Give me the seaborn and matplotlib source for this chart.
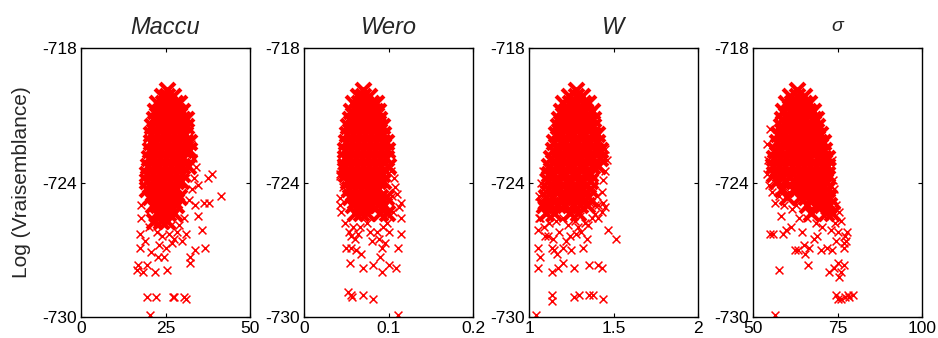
import matplotlib
matplotlib.use("Agg")
import matplotlib.pyplot as plt
import seaborn as sns

# ---- data (log-likelihood vs parameter draws) ----
titles = ["Maccu", "Wero", "W", "σ"]
y_ticks = [-730, -724, -718]
y_ticklabels = ["-730", "-724", "-718"]
x_ticks = [[0, 25, 50], [0, 0.1, 0.2], [1, 1.5, 2], [50, 75, 100]]
x_ticklabels = [["0", "25", "50"], ["0", "0.1", "0.2"], ["1", "1.5", "2"], ["50", "75", "100"]]

# Maccu: dense core
core_x1 = [25.4,
           23.8, 25.5, 27.2,
           22.6, 24.3, 26.0, 27.7, 29.0,
           21.9, 23.5, 25.1, 26.8, 28.4, 29.8,
           21.5, 23.1, 24.8, 26.5, 28.2, 29.9, 31.0,
           21.1, 22.8, 24.5, 26.2, 27.9, 29.6, 31.0,
           20.8, 22.4, 24.1, 25.8, 27.5, 29.2, 30.8,
           20.6, 22.3, 24.0, 25.7, 27.4, 29.1, 30.8, 32.0,
           20.3, 21.9, 23.6, 25.3, 27.0, 28.7, 30.4, 31.8,
           20.0, 21.7, 23.4, 25.1, 26.8, 28.5, 30.2,
           19.8, 21.5, 23.2, 24.9, 26.6, 28.3, 30.0, 31.5,
           19.6, 21.3, 23.0, 24.7, 26.4, 28.1, 29.8,
           19.5, 21.2, 22.9, 24.6, 26.3, 28.0, 29.7,
           19.6, 21.3, 23.0, 24.7, 26.4, 28.1,
           20.5, 22.2, 23.9, 25.6, 27.3, 29.0,
           21.2, 22.9, 24.6, 26.3, 28.0,
           22.4, 24.1, 25.8, 27.5,
           21.5, 23.6, 25.5]
core_y1 = [-719.85,
           -720.15, -720.15, -720.15,
           -720.45, -720.45, -720.45, -720.45, -720.45,
           -720.8, -720.8, -720.8, -720.8, -720.8, -720.8,
           -721.15, -721.15, -721.15, -721.15, -721.15, -721.15, -721.15,
           -721.5, -721.5, -721.5, -721.5, -721.5, -721.5, -721.5,
           -721.85, -721.85, -721.85, -721.85, -721.85, -721.85, -721.85,
           -722.2, -722.2, -722.2, -722.2, -722.2, -722.2, -722.2, -722.2,
           -722.55, -722.55, -722.55, -722.55, -722.55, -722.55, -722.55, -722.55,
           -722.9, -722.9, -722.9, -722.9, -722.9, -722.9, -722.9,
           -723.25, -723.25, -723.25, -723.25, -723.25, -723.25, -723.25, -723.25,
           -723.6, -723.6, -723.6, -723.6, -723.6, -723.6, -723.6,
           -723.95, -723.95, -723.95, -723.95, -723.95, -723.95, -723.95,
           -724.3, -724.3, -724.3, -724.3, -724.3, -724.3,
           -724.65, -724.65, -724.65, -724.65, -724.65, -724.65,
           -725.0, -725.0, -725.0, -725.0, -725.0,
           -725.35, -725.35, -725.35, -725.35,
           -725.7, -725.7, -725.7]
# Maccu: sparse tail
tail_x1 = [31.5, 32.5, 33.2, 34.0, 33.5, 32.8, 34.5, 31.8, 33.8,
           38.6, 37.7, 41.3, 37.9, 36.4, 34.5, 35.7, 36.7, 33.7, 32.2, 32.2,
           29.8, 25.3, 21.9, 19.4, 16.9, 16.6, 18.3, 22.7, 20.8, 17.4, 17.4,
           17.8, 17.8, 19.4, 22.3, 27.2, 27.6, 30.6, 31.0, 20.3,
           22.5, 24.0, 26.0, 27.5, 28.5, 23.0, 25.0, 27.0, 29.0, 30.5,
           20.0, 21.0, 19.0, 24.5, 26.5, 31.0]
tail_y1 = [-721.6, -722.3, -722.9, -723.3, -723.8, -724.3, -724.1, -724.8, -725.0,
           -723.6, -723.8, -724.6, -724.9, -724.9, -725.5, -726.1, -726.9, -727.0, -727.3, -727.6,
           -726.6, -727.9, -728.0, -727.7, -727.7, -727.9, -728.0, -727.3, -727.1, -726.9, -726.3,
           -725.6, -725.0, -729.1, -729.1, -729.1, -729.1, -729.1, -729.2, -729.9,
           -726.2, -726.4, -726.3, -726.5, -726.2, -726.8, -726.9, -726.7, -725.9, -725.6,
           -726.0, -725.8, -726.6, -727.3, -725.9, -726.3]

# Wero
core_x2 = [0.070,
           0.064, 0.070, 0.077,
           0.058, 0.065, 0.072, 0.079, 0.085,
           0.056, 0.063, 0.070, 0.077, 0.084, 0.088,
           0.054, 0.061, 0.068, 0.075, 0.082, 0.089,
           0.052, 0.059, 0.066, 0.073, 0.080, 0.087, 0.092,
           0.051, 0.058, 0.065, 0.072, 0.079, 0.086, 0.094,
           0.050, 0.057, 0.064, 0.071, 0.078, 0.085, 0.092, 0.097,
           0.049, 0.056, 0.063, 0.070, 0.077, 0.084, 0.091, 0.098,
           0.048, 0.055, 0.062, 0.069, 0.076, 0.083, 0.090, 0.097,
           0.049, 0.056, 0.063, 0.070, 0.077, 0.084, 0.091, 0.099,
           0.050, 0.057, 0.064, 0.071, 0.078, 0.085, 0.092,
           0.052, 0.059, 0.066, 0.073, 0.080, 0.087, 0.094,
           0.053, 0.060, 0.067, 0.074, 0.081, 0.088,
           0.055, 0.062, 0.069, 0.076, 0.083, 0.090, 0.097,
           0.058, 0.065, 0.072, 0.079, 0.088, 0.095,
           0.060, 0.067, 0.075, 0.090, 0.098]
core_y2 = [-719.85,
           -720.15, -720.15, -720.15,
           -720.45, -720.45, -720.45, -720.45, -720.45,
           -720.8, -720.8, -720.8, -720.8, -720.8, -720.8,
           -721.15, -721.15, -721.15, -721.15, -721.15, -721.15,
           -721.5, -721.5, -721.5, -721.5, -721.5, -721.5, -721.5,
           -721.85, -721.85, -721.85, -721.85, -721.85, -721.85, -721.85,
           -722.2, -722.2, -722.2, -722.2, -722.2, -722.2, -722.2, -722.2,
           -722.55, -722.55, -722.55, -722.55, -722.55, -722.55, -722.55, -722.55,
           -722.9, -722.9, -722.9, -722.9, -722.9, -722.9, -722.9, -722.9,
           -723.25, -723.25, -723.25, -723.25, -723.25, -723.25, -723.25, -723.25,
           -723.6, -723.6, -723.6, -723.6, -723.6, -723.6, -723.6,
           -723.95, -723.95, -723.95, -723.95, -723.95, -723.95, -723.95,
           -724.3, -724.3, -724.3, -724.3, -724.3, -724.3,
           -724.65, -724.65, -724.65, -724.65, -724.65, -724.65, -724.65,
           -725.0, -725.0, -725.0, -725.0, -725.0, -725.0,
           -725.35, -725.35, -725.35, -725.35, -725.35]
tail_x2 = [0.115, 0.115, 0.115, 0.111, 0.109, 0.101, 0.092, 0.082, 0.070, 0.068,
           0.054, 0.050, 0.056, 0.092, 0.090, 0.052, 0.056, 0.057, 0.070, 0.082, 0.111,
           0.042, 0.043, 0.042, 0.043, 0.044, 0.046, 0.044,
           0.048, 0.053, 0.056, 0.060, 0.064, 0.066, 0.058, 0.086, 0.089, 0.094,
           0.098, 0.078, 0.081, 0.074, 0.062, 0.096, 0.100, 0.104, 0.108, 0.106,
           0.103, 0.110, 0.112, 0.105, 0.101]
tail_y2 = [-724.9, -725.6, -726.3, -726.9, -727.8, -727.7, -728.0, -727.7, -727.8, -727.2,
           -727.6, -726.9, -726.9, -726.9, -727.3, -728.9, -729.0, -729.1, -729.0, -729.2, -729.9,
           -723.6, -723.7, -724.7, -725.0, -725.3, -724.2, -723.2,
           -725.8, -726.2, -726.4, -726.5, -726.3, -726.0, -726.0, -726.2, -726.5, -726.0,
           -725.8, -726.2, -726.6, -725.8, -727.0, -726.7, -725.5, -724.6, -724.2, -723.8,
           -723.5, -724.5, -725.1, -725.3, -726.2]

# W
core_x3 = [1.275,
           1.235, 1.275, 1.315,
           1.20, 1.24, 1.28, 1.32, 1.35,
           1.19, 1.22, 1.26, 1.30, 1.33, 1.37,
           1.18, 1.21, 1.25, 1.28, 1.32, 1.35, 1.38,
           1.17, 1.20, 1.24, 1.27, 1.31, 1.34, 1.38,
           1.16, 1.19, 1.23, 1.26, 1.30, 1.33, 1.37, 1.40,
           1.15, 1.19, 1.22, 1.26, 1.29, 1.33, 1.36, 1.40,
           1.14, 1.18, 1.21, 1.25, 1.28, 1.32, 1.35, 1.39, 1.42,
           1.13, 1.17, 1.20, 1.24, 1.27, 1.31, 1.34, 1.38, 1.42,
           1.12, 1.16, 1.19, 1.23, 1.26, 1.30, 1.33, 1.37, 1.41,
           1.12, 1.15, 1.19, 1.22, 1.26, 1.29, 1.33, 1.36,
           1.11, 1.15, 1.18, 1.22, 1.25, 1.29, 1.32, 1.36,
           1.11, 1.15, 1.18, 1.22, 1.25, 1.29, 1.32, 1.36,
           1.10, 1.14, 1.19, 1.23, 1.27, 1.31, 1.35,
           1.09, 1.13, 1.17, 1.21, 1.26, 1.30, 1.34,
           1.10, 1.15, 1.24, 1.29]
core_y3 = [-719.85,
           -720.15, -720.15, -720.15,
           -720.45, -720.45, -720.45, -720.45, -720.45,
           -720.8, -720.8, -720.8, -720.8, -720.8, -720.8,
           -721.15, -721.15, -721.15, -721.15, -721.15, -721.15, -721.15,
           -721.5, -721.5, -721.5, -721.5, -721.5, -721.5, -721.5,
           -721.85, -721.85, -721.85, -721.85, -721.85, -721.85, -721.85, -721.85,
           -722.2, -722.2, -722.2, -722.2, -722.2, -722.2, -722.2, -722.2,
           -722.55, -722.55, -722.55, -722.55, -722.55, -722.55, -722.55, -722.55, -722.55,
           -722.9, -722.9, -722.9, -722.9, -722.9, -722.9, -722.9, -722.9, -722.9,
           -723.25, -723.25, -723.25, -723.25, -723.25, -723.25, -723.25, -723.25, -723.25,
           -723.6, -723.6, -723.6, -723.6, -723.6, -723.6, -723.6, -723.6,
           -723.95, -723.95, -723.95, -723.95, -723.95, -723.95, -723.95, -723.95,
           -724.3, -724.3, -724.3, -724.3, -724.3, -724.3, -724.3, -724.3,
           -724.65, -724.65, -724.65, -724.65, -724.65, -724.65, -724.65,
           -725.0, -725.0, -725.0, -725.0, -725.0, -725.0, -725.0,
           -725.35, -725.35, -725.35, -725.35]
tail_x3 = [1.45, 1.46, 1.45, 1.44, 1.43, 1.40, 1.39, 1.45, 1.43, 1.41,
           1.08, 1.07, 1.06, 1.07, 1.08,
           1.065, 1.059, 1.055, 1.095, 1.112, 1.055, 1.067, 1.055, 1.134, 1.173,
           1.203, 1.167, 1.138, 1.145, 1.20, 1.22, 1.24, 1.25, 1.29, 1.32,
           1.34, 1.33, 1.37, 1.39, 1.41, 1.44, 1.468, 1.512, 1.268, 1.354,
           1.409, 1.431, 1.134, 1.134, 1.268, 1.297, 1.356, 1.376, 1.439, 1.04,
           1.12, 1.16, 1.20, 1.23, 1.27, 1.31, 1.28, 1.18, 1.09, 1.35, 1.30, 1.14, 1.36]
tail_y3 = [-722.5, -723.0, -723.5, -723.9, -724.4, -724.6, -725.0, -725.1, -725.3, -725.6,
           -723.5, -724.0, -724.6, -725.0, -724.3,
           -725.6, -725.6, -726.1, -726.4, -726.4, -726.9, -727.3, -727.8, -728.0, -727.8,
           -727.6, -727.2, -726.9, -727.0, -726.9, -726.6, -726.4, -727.0, -726.0, -726.9,
           -726.5, -725.8, -725.6, -725.4, -725.0, -724.9, -726.1, -726.5, -727.8, -727.7,
           -727.7, -727.8, -729.0, -729.3, -729.1, -729.0, -729.0, -729.0, -729.2, -729.9,
           -725.8, -725.7, -725.6, -725.9, -725.7, -726.2, -726.3, -726.2, -726.0, -725.9, -725.5, -726.5, -724.9]

# sigma
core_x4 = [63.0,
           61.0, 63.0, 65.0,
           59.7, 61.5, 63.3, 65.1, 66.6,
           59.0, 60.8, 62.6, 64.4, 66.2, 67.8,
           58.6, 60.4, 62.2, 64.0, 65.8, 67.6, 68.6,
           58.2, 60.0, 61.8, 63.6, 65.4, 67.2, 69.0,
           57.5, 59.3, 61.1, 62.9, 64.7, 66.5, 68.3, 69.8,
           57.0, 58.8, 60.6, 62.4, 64.2, 66.0, 67.8, 69.6, 70.6,
           56.6, 58.4, 60.2, 62.0, 63.8, 65.6, 67.4, 69.2, 71.0,
           56.2, 58.0, 59.8, 61.6, 63.4, 65.2, 67.0, 68.8, 70.6, 71.8,
           56.0, 57.8, 59.6, 61.4, 63.2, 65.0, 66.8, 68.6, 70.4, 72.0,
           56.3, 58.1, 59.9, 61.7, 63.5, 65.3, 67.1, 68.9, 70.7, 72.0,
           57.0, 59.5, 62.0, 64.0, 65.8, 67.6, 69.4, 71.2,
           58.5, 63.0, 64.8, 66.6, 68.4, 70.2, 72.0,
           60.0, 64.0, 65.8, 67.6, 69.4, 71.2, 72.6,
           66.0, 68.5, 70.5, 72.5,
           67.2, 71.5, 73.5]
core_y4 = [-719.85,
           -720.15, -720.15, -720.15,
           -720.45, -720.45, -720.45, -720.45, -720.45,
           -720.8, -720.8, -720.8, -720.8, -720.8, -720.8,
           -721.15, -721.15, -721.15, -721.15, -721.15, -721.15, -721.15,
           -721.5, -721.5, -721.5, -721.5, -721.5, -721.5, -721.5,
           -721.85, -721.85, -721.85, -721.85, -721.85, -721.85, -721.85, -721.85,
           -722.2, -722.2, -722.2, -722.2, -722.2, -722.2, -722.2, -722.2, -722.2,
           -722.55, -722.55, -722.55, -722.55, -722.55, -722.55, -722.55, -722.55, -722.55,
           -722.9, -722.9, -722.9, -722.9, -722.9, -722.9, -722.9, -722.9, -722.9, -722.9,
           -723.25, -723.25, -723.25, -723.25, -723.25, -723.25, -723.25, -723.25, -723.25, -723.25,
           -723.6, -723.6, -723.6, -723.6, -723.6, -723.6, -723.6, -723.6, -723.6, -723.6,
           -723.95, -723.95, -723.95, -723.95, -723.95, -723.95, -723.95, -723.95,
           -724.3, -724.3, -724.3, -724.3, -724.3, -724.3, -724.3,
           -724.65, -724.65, -724.65, -724.65, -724.65, -724.65, -724.65,
           -725.0, -725.0, -725.0, -725.0,
           -725.35, -725.35, -725.35]
tail_x4 = [54.5, 54.0, 54.6, 55.5, 54.2, 55.0, 56.5, 57.8, 59.3, 60.6, 61.5, 62.8, 63.6, 58.2,
           73.5, 73.8, 74.0, 74.5, 75.5, 76.0, 74.2, 75.1, 73.2,
           77.1, 77.6, 77.0, 77.8, 76.8,
           55.0, 55.8, 58.9, 59.9, 61.3, 62.3, 63.2, 66.2, 57.6,
           65.2, 66.6, 68.0, 69.0, 70.0, 65.5, 70.5, 72.0, 73.5, 74.5, 75.0, 74.0, 76.0,
           77.0, 72.5, 75.3, 66.0, 68.5, 64.5, 71.0,
           74.6, 75.1, 77.1, 78.1, 79.5, 76.0, 78.5, 56.6]
tail_y4 = [-723.0, -723.6, -724.1, -724.4, -722.3, -721.6, -724.9, -724.6, -725.0, -724.4, -725.2, -725.0, -725.6, -725.5,
           -723.0, -723.9, -724.3, -725.0, -725.3, -725.7, -725.8, -726.2, -726.1,
           -726.4, -726.6, -726.9, -726.2, -726.7,
           -726.3, -726.3, -726.3, -726.1, -726.0, -727.0, -727.0, -727.7, -727.9,
           -726.8, -726.9, -726.5, -726.4, -727.0, -727.2, -726.0, -726.9, -727.0, -726.6, -727.6, -727.8, -728.0,
           -727.7, -728.0, -728.2, -725.6, -725.8, -726.2, -725.5,
           -729.0, -729.2, -729.1, -729.0, -729.0, -729.2, -729.1, -729.9]

cores = [(core_x1, core_y1), (core_x2, core_y2), (core_x3, core_y3), (core_x4, core_y4)]
tails = [(tail_x1, tail_y1), (tail_x2, tail_y2), (tail_x3, tail_y3), (tail_x4, tail_y4)]
x_limits = [(0, 50), (0, 0.2), (1, 2), (50, 100)]

sns.set_theme(style="ticks")
plt.rcParams['font.family'] = ['Liberation Sans', 'DejaVu Sans']

fig = plt.figure(figsize=(9.38, 3.38), dpi=100)
lefts = [0.0864, 0.3241, 0.5640, 0.8028]

for i in range(4):
    ax = fig.add_axes([lefts[i], 0.062, 0.1802, 0.7959])
    cx, cy = cores[i]
    tx, ty = tails[i]
    # the dense cloud is drawn with heavier crosses so it reads as solid
    sns.scatterplot(x=cx, y=cy, ax=ax, marker='x', color='red', s=115, linewidth=3.0)
    sns.scatterplot(x=tx, y=ty, ax=ax, marker='x', color='red', s=32, linewidth=1.1)

    ax.set_xlim(*x_limits[i])
    ax.set_ylim(-730, -718)
    ax.set_xticks(x_ticks[i])
    ax.set_xticklabels(x_ticklabels[i])
    ax.set_yticks(y_ticks)
    ax.set_yticklabels(y_ticklabels)
    ax.tick_params(direction='in', length=3, width=0.8, top=True, right=True,
                   labelsize=12.5, colors='black', pad=3)
    for sp in ax.spines.values():
        sp.set_visible(True)
        sp.set_color('black')
        sp.set_linewidth(1.0)

    if i < 3:
        ax.set_title(titles[i], fontsize=17, fontstyle='italic', pad=10)
    else:
        ax.set_title(titles[i], fontsize=14, fontstyle='italic', pad=12)

fig.axes[0].set_ylabel("Log (Vraisemblance)", fontsize=15, labelpad=8)

fig.savefig("out.png", dpi=100, facecolor='white')
